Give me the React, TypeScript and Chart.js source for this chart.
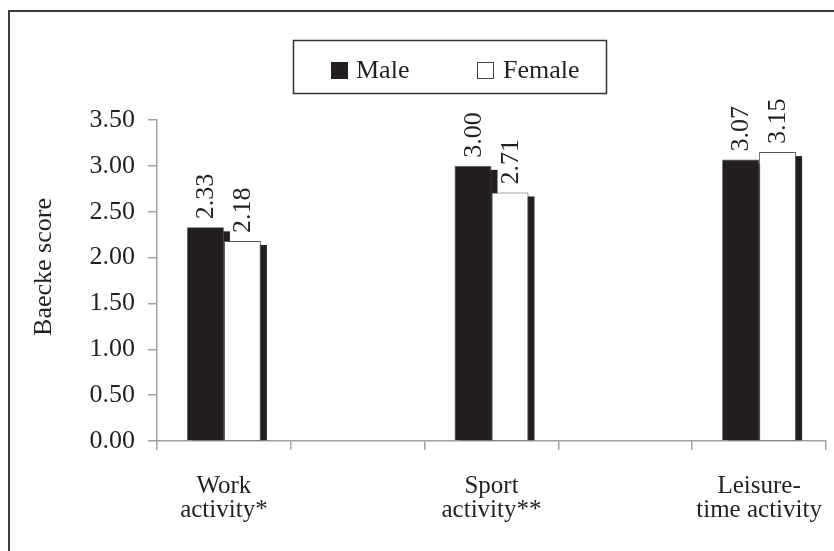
import React, { useEffect, useRef } from 'react';
import { Chart, registerables } from 'chart.js';

Chart.register(...registerables);

const categories: (string | string[])[] = [
  ['Work', 'activity*'],
  '',
  ['Sport', 'activity**'],
  '',
  ['Leisure-', 'time activity'],
];
const maleValues: (number | null)[] = [2.33, null, 3.0, null, 3.07];
const femaleValues: (number | null)[] = [2.18, null, 2.71, null, 3.15];
const valueLabels: (string | null)[][] = [
  ['2.33', null, '3.00', null, '3.07'],
  ['2.18', null, '2.71', null, '3.15'],
];
const seriesNames = ['Male', 'Female'];
const yTickValues = [0, 0.5, 1, 1.5, 2, 2.5, 3, 3.5];
const yAxisTitle = 'Baecke score';

const FONT = '"Liberation Serif", "Times New Roman", serif';
const INK = '#231f20';
const AXIS = '#a0a0a0';

const shadowPlugin = {
  id: 'barShadow',
  beforeDatasetsDraw(chart: any) {
    const ctx = chart.ctx;
    const area = chart.chartArea;
    ctx.save();
    ctx.beginPath();
    ctx.rect(area.left, area.top - 20, area.right - area.left + 20, area.bottom - area.top + 20);
    ctx.clip();
    ctx.fillStyle = INK;
    chart.data.datasets.forEach((_d: any, di: number) => {
      const meta = chart.getDatasetMeta(di);
      meta.data.forEach((el: any, i: number) => {
        const v = chart.data.datasets[di].data[i];
        if (v === null || v === undefined) return;
        const p = el.getProps(['x', 'y', 'base', 'width'], true);
        ctx.fillRect(p.x - p.width / 2 + 6, p.y + 4, p.width, p.base - p.y - 4);
      });
    });
    ctx.restore();
  },
};

const decorPlugin = {
  id: 'decor',
  afterDraw(chart: any) {
    const ctx = chart.ctx;
    ctx.save();
    // outer frame (left + top edges visible)
    ctx.fillStyle = '#3c3c3c';
    ctx.fillRect(8, 10, 834, 2);
    ctx.fillRect(8, 10, 2, 551);

    // value labels
    ctx.fillStyle = INK;
    ctx.font = `26px ${FONT}`;
    ctx.textAlign = 'left';
    ctx.textBaseline = 'middle';
    chart.data.datasets.forEach((_d: any, di: number) => {
      const meta = chart.getDatasetMeta(di);
      meta.data.forEach((el: any, i: number) => {
        const lbl = valueLabels[di][i];
        if (!lbl) return;
        const p = el.getProps(['x', 'y'], true);
        ctx.save();
        ctx.translate(p.x + 1, p.y - 8);
        ctx.rotate(-Math.PI / 2);
        ctx.fillText(lbl, 0, 0);
        ctx.restore();
      });
    });

    // y axis title
    ctx.save();
    ctx.translate(44, 267);
    ctx.rotate(-Math.PI / 2);
    ctx.textAlign = 'center';
    ctx.textBaseline = 'middle';
    ctx.font = `26px ${FONT}`;
    ctx.fillText(yAxisTitle, 0, 0);
    ctx.restore();

    // legend
    ctx.strokeStyle = '#333';
    ctx.lineWidth = 1.5;
    ctx.strokeRect(293.5, 40.5, 313, 53);
    ctx.fillStyle = INK;
    ctx.fillRect(331, 62, 17, 17);
    ctx.fillStyle = '#fff';
    ctx.fillRect(477, 62, 17, 17);
    ctx.strokeStyle = '#444';
    ctx.lineWidth = 1;
    ctx.strokeRect(477.5, 62.5, 16, 16);
    ctx.fillStyle = INK;
    ctx.font = `26px ${FONT}`;
    ctx.textAlign = 'left';
    ctx.textBaseline = 'middle';
    ctx.fillText(seriesNames[0], 356, 71);
    ctx.fillText(seriesNames[1], 503, 71);
    ctx.restore();
  },
};

export default function App() {
  const ref = useRef<HTMLCanvasElement>(null);
  useEffect(() => {
    if (!ref.current) return;
    const chart = new Chart(ref.current, {
      type: 'bar',
      data: {
        labels: categories as any,
        datasets: [
          {
            label: seriesNames[0],
            data: maleValues,
            backgroundColor: INK,
            borderColor: '#555',
            borderWidth: 0.8,
            categoryPercentage: 0.553,
            barPercentage: 1,
          },
          {
            label: seriesNames[1],
            data: femaleValues,
            backgroundColor: '#ffffff',
            borderColor: '#555',
            borderWidth: 1,
            categoryPercentage: 0.553,
            barPercentage: 1,
          },
        ],
      },
      options: {
        animation: false,
        responsive: false,
        devicePixelRatio: 1,
        layout: { padding: { top: 120, right: 8, left: 0, bottom: 0 } },
        plugins: {
          legend: { display: false },
          tooltip: { enabled: false },
        },
        scales: {
          x: {
            grid: {
              offset: true,
              drawOnChartArea: false,
              drawTicks: true,
              tickLength: 9,
              color: AXIS,
              lineWidth: 1.5,
            },
            border: { display: true, color: AXIS, width: 1.5 },
            ticks: {
              autoSkip: false,
              maxRotation: 0,
              minRotation: 0,
              padding: 24,
              color: INK,
              font: { family: FONT, size: 25, lineHeight: 0.98 },
            },
            afterFit(scale: any) {
              scale.height = 110;
              scale.paddingLeft = 0;
              scale.paddingRight = 0;
            },
          },
          y: {
            min: 0,
            max: 3.5,
            afterBuildTicks(scale: any) {
              scale.ticks = yTickValues.map((v) => ({ value: v }));
            },
            grid: {
              drawOnChartArea: false,
              drawTicks: true,
              tickLength: 9,
              color: AXIS,
              lineWidth: 1.5,
            },
            border: { display: true, color: AXIS, width: 1.5 },
            ticks: {
              padding: 13,
              color: INK,
              font: { family: FONT, size: 26 },
              callback: (v: any) => Number(v).toFixed(2),
            },
            afterFit(scale: any) {
              scale.width = 157;
            },
          },
        },
      },
      plugins: [shadowPlugin, decorPlugin],
    });
    return () => chart.destroy();
  }, []);
  return (
    <div style={{ position: 'fixed', left: 0, top: 0, width: 834, height: 551, background: '#fff' }}>
      <canvas ref={ref} width={834} height={551} style={{ display: 'block' }} />
    </div>
  );
}
